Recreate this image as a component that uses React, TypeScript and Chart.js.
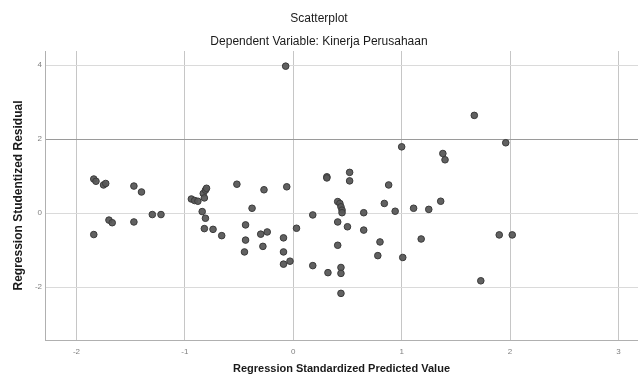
import React, { useEffect, useRef } from "react";
import { Chart, registerables } from "chart.js";

Chart.register(...registerables);

const xValues: number[] = [
  -1.84, -1.82, -1.75, -1.73, -1.47, -1.40, -1.70, -1.67, -1.47, -1.84,
  -1.30, -1.22, -0.94, -0.91, -0.88, -0.83, -0.81, -0.80, -0.82, -0.84,
  -0.81, -0.82, -0.74, -0.66, -0.52, -0.27, -0.06, -0.38, 0.31, 0.31,
  0.52, 0.52, 0.88, 0.84, 0.41, 0.43, 0.44, 0.45, 0.45, 0.18,
  0.65, 0.94, 1.11, 1.25, -0.44, -0.30, -0.24, 0.03, 0.41, 0.50,
  0.65, -0.44, -0.28, -0.09, -0.45, -0.09, -0.09, -0.03, 0.18, 0.41,
  0.80, 0.78, 1.01, 1.18, 0.32, 0.44, 0.44, 0.44, -0.07, 1.00,
  1.67, 1.96, 1.38, 1.40, 1.36, 1.90, 2.02, 1.73,
];

const yValues: number[] = [
  0.92, 0.86, 0.76, 0.80, 0.73, 0.57, -0.19, -0.26, -0.24, -0.58,
  -0.04, -0.04, 0.38, 0.34, 0.32, 0.53, 0.62, 0.67, 0.41, 0.04,
  -0.14, -0.42, -0.44, -0.61, 0.78, 0.63, 0.71, 0.13, 0.98, 0.95,
  1.10, 0.87, 0.76, 0.26, 0.31, 0.26, 0.17, 0.08, 0.01, -0.05,
  0.01, 0.05, 0.13, 0.10, -0.32, -0.57, -0.51, -0.41, -0.24, -0.37,
  -0.46, -0.73, -0.90, -0.67, -1.05, -1.05, -1.38, -1.30, -1.42, -0.87,
  -0.78, -1.15, -1.20, -0.70, -1.61, -1.47, -1.63, -2.17, 3.97, 1.79,
  2.64, 1.90, 1.61, 1.44, 0.32, -0.59, -0.59, -1.83,
];

const xTicks: number[] = [-2, -1, 0, 1, 2, 3];
const yTicks: number[] = [4, 2, 0, -2];

const chartTitle = "Scatterplot";
const chartSubtitle = "Dependent Variable: Kinerja Perusahaan";
const xTitle = "Regression Standardized Predicted Value";
const yTitle = "Regression Studentized Residual";

const FONT = "'Liberation Sans', Arial, sans-serif";

export default function App() {
  const canvasRef = useRef<HTMLCanvasElement | null>(null);

  useEffect(() => {
    if (!canvasRef.current) return;
    const points = xValues.map((x, i) => ({ x, y: yValues[i] }));
    const chart = new Chart(canvasRef.current, {
      type: "scatter",
      data: {
        datasets: [
          {
            data: points,
            backgroundColor: "rgba(88,88,88,0.95)",
            borderColor: "#3a3a3a",
            borderWidth: 1,
            pointRadius: 3.3,
          },
        ],
      },
      options: {
        animation: false,
        responsive: false,
        layout: { padding: 0, autoPadding: false },
        plugins: {
          legend: { display: false },
          tooltip: { enabled: false },
          title: {
            display: true,
            text: chartTitle,
            color: "#1a1a1a",
            font: { family: FONT, size: 12, weight: "normal" },
            padding: { top: 11, bottom: 9 },
          },
          subtitle: {
            display: true,
            text: chartSubtitle,
            color: "#1a1a1a",
            font: { family: FONT, size: 12, weight: "500" },
            padding: { top: 0, bottom: 2.2 },
          },
        },
        scales: {
          x: {
            type: "linear",
            min: -2.29,
            max: 3.18,
            afterBuildTicks: (scale: any) => {
              scale.ticks = xTicks.map((v) => ({ value: v }));
            },
            afterFit: (scale: any) => {
              scale.height = 36;
              scale.paddingRight = 0;
              scale.paddingLeft = 0;
            },
            ticks: {
              color: "#808080",
              font: { family: FONT, size: 8 },
              padding: 7,
            },
            grid: { color: "#c6c6c6", drawTicks: false, lineWidth: 1 },
            border: { display: true, color: "#b0b0b0" },
            title: {
              display: true,
              text: xTitle,
              color: "#1a1a1a",
              font: { family: FONT, size: 11, weight: "bold" },
              padding: { top: 0, bottom: 0 },
            },
          },
          y: {
            type: "linear",
            min: -3.43,
            max: 4.38,
            afterBuildTicks: (scale: any) => {
              scale.ticks = yTicks.map((v) => ({ value: v }));
            },
            afterFit: (scale: any) => {
              scale.width = 45;
              scale.paddingTop = 0;
              scale.paddingBottom = 0;
            },
            ticks: {
              color: "#808080",
              font: { family: FONT, size: 8 },
              padding: 3,
            },
            grid: {
              color: (ctx: any) => (ctx.tick && ctx.tick.value === 2 ? "#9a9a9a" : "#dadada"),
              drawTicks: false,
              lineWidth: 1,
            },
            border: { display: true, color: "#b0b0b0" },
            title: {
              display: true,
              text: yTitle,
              color: "#1a1a1a",
              font: { family: FONT, size: 12, weight: "bold" },
              padding: { top: 11, bottom: 0 },
            },
          },
        },
      },
    });
    return () => chart.destroy();
  }, []);

  return (
    <div style={{ position: "fixed", left: 0, top: 0, width: 638, height: 376, background: "#fff" }}>
      <canvas ref={canvasRef} width={638} height={376} style={{ display: "block" }} />
    </div>
  );
}
